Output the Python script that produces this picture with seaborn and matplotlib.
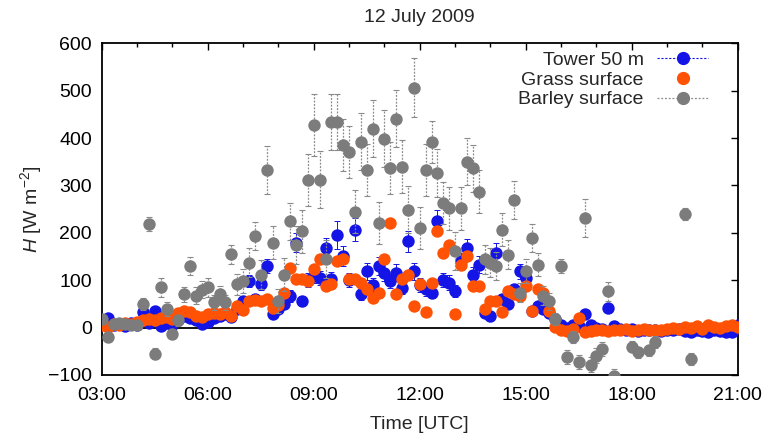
import numpy as np
import pandas as pd
import matplotlib
matplotlib.use("Agg")
import matplotlib.pyplot as plt
from matplotlib.lines import Line2D
from matplotlib.ticker import MultipleLocator, FuncFormatter
import seaborn as sns

# ---------------- data (10-min slots from 03:00 to 21:00) ----------------
hours = np.arange(109) / 6.0 + 3.0  # time axis grid in decimal hours UTC

tower = [15, 20, 5, 8, 3, 10, 5, 32, 10, 35, 3, 10, 5, 15, 25, 20, 15, 8, 12, 20,
         25, 28, 22, 40, 56, 98, 60, 91, 130, 28, 40, 49, 67, 179, 56, 100, 109, 105, 168, 102,
         196, 151, 100, 207, 70, 119, 90, 130, 116, 98, 116, 84, 182, 119, 90, 81, 74, 224, 100, 95,
         77, 140, 168, 112, 133, 30, 25, 158, 60, 50, 81, 119, 105, 35, 46, 40, 30, 18, 5, 0,
         5, 3, 28, 5, 0, -3, 42, 3, -2, -5, -3, -8, -5, -6, -4, -8, -6, -5, -3, -8,
         -10, -5, -8, -10, -6, -8, -10, -9, 5]
tower_err = [5, 5, 5, 5, 5, 5, 5, 6, 5, 6, 5, 5, 5, 5, 6, 6, 5, 5, 5, 6,
             6, 6, 6, 8, 10, 12, 10, 12, 14, 8, 8, 10, 12, 20, 10, 15, 15, 15, 22, 15,
             30, 22, 15, 25, 12, 18, 15, 18, 18, 15, 18, 14, 22, 18, 15, 14, 12, 25, 15, 15,
             12, 18, 20, 15, 18, 8, 8, 20, 10, 10, 12, 16, 15, 8, 8, 8, 6, 5, 5, 5,
             5, 5, 6, 5, 5, 5, 8, 5, 5, 5, 5, 5, 5, 5, 5, 5, 5, 5, 5, 5,
             5, 5, 5, 5, 5, 5, 5, 5, 5]

grass = [5, 2, 8, 5, 10, 8, 12, 15, 18, 15, 20, 22, 18, 30, 35, 32, 25, 22, 28, 30,
         28, 32, 25, 45, 38, 56, 58, 56, 60, 42, 48, 74, 126, 102, 102, 98, 123, 144, 88, 91,
         140, 144, 102, 102, 95, 81, 63, 74, 144, 221, 70, 102, 112, 46, 91, 32, 95, 203, 158, 175,
         28, 133, 151, 88, 88, 39, 56, 56, 32, 77, 70, 67, 88, 35, 81, 74, 35, 2, -5, -8,
         -3, 21, -10, -8, -5, -6, -8, -4, -5, -3, -8, -5, -2, -6, -4, -5, -3, 0, -2, 2,
         0, 3, -2, 5, 2, 0, 3, 5, 2]

nan = np.nan
barley = [18, -20, 8, 10, 8, 5, 5, 50, 218, -55, 85, 40, -13, 15, 70, 130, 67, 80, 85, 53,
          70, 53, 155, 91, 98, 137, 193, 112, 333, 179, 56, 112, 224, 175, 203, 312, 427, 312, 144, 434,
          434, 385, 371, 245, 392, 333, 420, 221, 399, 336, 441, 340, 249, 506, 210, 333, 392, 326, 263, 252,
          161, 252, 350, 336, 287, 144, 137, 130, 207, 154, 270, 74, 119, 189, 133, 67, 56, 18, 130, -62,
          -20, -72, 231, -78, -59, -45, 77, -102, nan, nan, -40, -52, nan, -48, -30, nan, nan, nan, nan, 240,
          -66, nan, nan, nan, nan, nan, nan, nan, nan]
barley_err = [10, 10, 8, 8, 8, 8, 8, 12, 15, 12, 20, 15, 10, 12, 15, 20, 18, 18, 20, 15,
              18, 15, 20, 22, 25, 30, 30, 30, 50, 35, 25, 35, 40, 40, 45, 55, 65, 60, 40, 60,
              60, 55, 55, 45, 60, 55, 60, 45, 60, 55, 60, 55, 50, 62, 45, 55, 45, 50, 45, 45,
              40, 45, 50, 50, 45, 30, 30, 30, 35, 30, 40, 20, 25, 30, 25, 20, 18, 12, 15, 15,
              12, 15, 40, 15, 15, 15, 20, 15, 10, 10, 12, 12, 10, 12, 12, 10, 10, 10, 10, 12,
              12, 10, 10, 10, 10, 10, 10, 10, 10]

xtick_hours = [3, 6, 9, 12, 15, 18, 21]
series_names = ["Tower 50 m", "Grass surface", "Barley surface"]

df = pd.DataFrame({"t": hours, "tower": tower, "tower_err": tower_err,
                   "grass": grass, "barley": barley, "barley_err": barley_err})

# ---------------- style ----------------
sns.set_style("white")
plt.rcParams["font.family"] = ["Liberation Sans", "DejaVu Sans"]
plt.rcParams["mathtext.fontset"] = "custom"
plt.rcParams["mathtext.rm"] = "Liberation Sans"
plt.rcParams["mathtext.it"] = "Liberation Sans:italic"
plt.rcParams["mathtext.default"] = "regular"

BLUE = "#1414e6"
ORANGE = "#ff5205"
GREY = "#7c7c7c"
FS = 14

fig = plt.figure(figsize=(7.66, 4.37), dpi=100)
ax = fig.add_axes([0.1328, 0.1419, 0.8303, 0.7590])

# zero line
ax.axhline(0, color="black", lw=1.3, zorder=1)

# Tower 50 m
ax.errorbar(df["t"], df["tower"], yerr=df["tower_err"], fmt="none", ecolor=BLUE,
            elinewidth=0.7, capsize=2, capthick=0.7, zorder=2, linestyle=":")
sns.scatterplot(data=df, x="t", y="tower", color=BLUE, s=80, linewidth=0, ax=ax, zorder=3)

# Grass surface
sns.scatterplot(data=df, x="t", y="grass", color=ORANGE, s=80, linewidth=0, ax=ax, zorder=4)

# Barley surface
dfb = df.dropna(subset=["barley"])
eb = ax.errorbar(dfb["t"], dfb["barley"], yerr=dfb["barley_err"], fmt="none", ecolor="#8a8a8a",
                 elinewidth=0.9, capsize=2, capthick=0.8, zorder=5)
for lc in eb[2]:
    lc.set_linestyle((0, (1.5, 1.2)))
sns.scatterplot(data=dfb, x="t", y="barley", color=GREY, s=80, linewidth=0, ax=ax, zorder=6)

# ---------------- axes ----------------
ax.set_xlim(3, 21)
ax.set_ylim(-100, 600)
ax.set_xticks(xtick_hours)
ax.xaxis.set_major_formatter(FuncFormatter(lambda v, p: "%02d:00" % int(round(v))))
ax.xaxis.set_minor_locator(MultipleLocator(1))
ax.yaxis.set_major_locator(MultipleLocator(100))
ax.tick_params(which="both", direction="in", top=True, right=True, colors="black",
               labelsize=FS, width=1.0)
ax.tick_params(which="major", length=5)
ax.tick_params(axis="x", which="major", pad=9)
ax.tick_params(axis="y", which="major", pad=7)
ax.tick_params(which="minor", length=3)
for sp in ax.spines.values():
    sp.set_color("black")
    sp.set_linewidth(1.3)

ax.set_xlabel("Time [UTC]", fontsize=FS, labelpad=8)
ax.set_ylabel(r"$\mathit{H}$ [W m$^{-2}$]", fontsize=FS, labelpad=3)
ax.set_title("12 July 2009", fontsize=FS, pad=15)

handles = [
    Line2D([0], [0], color=BLUE, ls=(0, (2, 1.5)), lw=0.8, marker="o", ms=8.5, mec=BLUE, mfc=BLUE),
    Line2D([0], [0], color=ORANGE, ls="none", marker="o", ms=8.5, mec=ORANGE, mfc=ORANGE),
    Line2D([0], [0], color="#8a8a8a", ls=(0, (1.5, 1.5)), lw=0.9, marker="o", ms=8.5, mec=GREY, mfc=GREY),
]
leg = ax.legend(handles, series_names, loc="upper right", bbox_to_anchor=(0.953, 0.975),
                frameon=False, markerfirst=False, fontsize=FS, handlelength=2.6,
                handletextpad=0.7, labelspacing=0.1, borderpad=0, borderaxespad=0)

fig.savefig("out.png", dpi=100)
